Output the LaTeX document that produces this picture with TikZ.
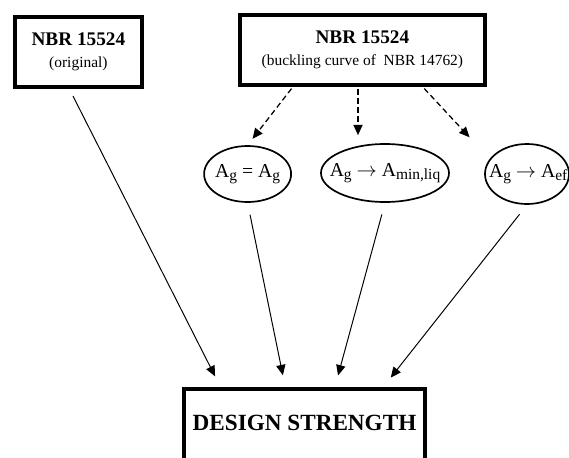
\documentclass[tikz,border=0pt]{standalone}
\usepackage{fontspec}
\setmainfont{Liberation Serif}
\usetikzlibrary{shapes.geometric, arrows.meta, positioning, calc}

% lowered index, a bit larger than \textsubscript
\newcommand{\lowidx}[1]{\raisebox{-0.35ex}{\fontsize{11}{11}\selectfont #1}}

\begin{document}
\begin{tikzpicture}[
    >={Triangle[length=2.6mm, width=2.3mm]},
    % boxes and ovals
    box/.style={rectangle, draw, line width=2.8pt, align=center, inner sep=0pt},
    oval/.style={ellipse, draw, line width=1.2pt, inner sep=0pt, font=\fontsize{14}{16}\selectfont},
    % connectors
    solidarrow/.style={->, line width=0.7pt, shorten <=0.3cm, shorten >=0.3cm},
    dasharrow/.style={->, line width=0.9pt, dash pattern=on 4pt off 2.5pt, shorten <=1.5pt, shorten >=0.2cm}
]
    \useasboundingbox (0,0) rectangle (14.225,-11.425);

    % --- TOP ROW ---
    \node (orig) [box, minimum width=3.175cm, minimum height=1.75cm,
        font=\fontsize{11}{15.6}\selectfont] at (1.96,-1.30)
        {\textbf{\fontsize{13.7}{15.6}\selectfont NBR 15524}\\(original)};
    \node (nbr) [box, minimum width=6.125cm, minimum height=1.75cm,
        font=\fontsize{11}{15.6}\selectfont] at (9.06,-1.25)
        {\textbf{\fontsize{13.7}{15.6}\selectfont NBR 15524}\\(buckling curve of\ \ NBR 14762)};

    % --- AREAS ---
    \node (ageq) [oval, minimum width=2.175cm, minimum height=1.4cm] at (6.19,-4.35)
        {\makebox[0pt]{A\lowidx{g} = A\lowidx{g}}};
    \node (agmin) [oval, minimum width=3.2cm, minimum height=1.45cm] at (9.625,-4.325)
        {\makebox[0pt]{A\lowidx{g} $\rightarrow$ A\lowidx{min,liq}}};
    \node (agef) [oval, minimum width=2.1cm, minimum height=1.5cm] at (13.175,-4.35)
        {\makebox[0pt]{\hspace{0.06cm}A\lowidx{g} $\rightarrow$ A\lowidx{ef}}};

    % --- RESULT ---
    \node (design) [box, minimum width=6.025cm, text height=1.025cm, text depth=1cm,
        anchor=base, font=\fontsize{16.5}{19}\selectfont\bfseries] at (7.6125,-10.75)
        {DESIGN STRENGTH};

    % --- DASHED EDGES ---
    \draw[dasharrow] ([xshift=-1.74cm]nbr.south) -- (ageq.north);
    \draw[dasharrow] ([xshift=-0.11cm]nbr.south) -- ([xshift=-0.11cm]nbr.south |- agmin.north);
    \draw[dasharrow] ([xshift=1.51cm]nbr.south) -- ([xshift=-1.3cm]agef.north);

    % --- SOLID EDGES ---
    \draw[solidarrow, shorten <=0.2cm] ([xshift=-0.225cm]orig.south) -- ([xshift=-2.1cm]design.north);
    \draw[solidarrow] (ageq.south) -- ([xshift=-0.48cm]design.north);
    \draw[solidarrow] (agmin.south) -- ([xshift=0.76cm]design.north);
    \draw[solidarrow] (agef.south) -- ([xshift=1.97cm]design.north);

\end{tikzpicture}
\end{document}
